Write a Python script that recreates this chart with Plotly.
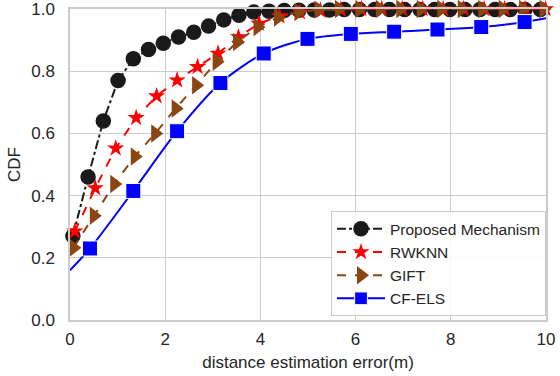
import plotly.graph_objects as go

# Proposed Mechanism (black circles)
prop_x = [0.06, 0.38, 0.70, 1.01, 1.33, 1.65, 1.96, 2.28, 2.60, 2.91, 3.23, 3.55, 3.86, 4.18, 4.50,
          4.81, 5.13, 5.45, 5.76, 6.08, 6.40, 6.71, 7.03, 7.35, 7.66, 7.98, 8.30, 8.61, 8.93, 9.25, 9.56, 9.88]
prop_y = [0.27, 0.46, 0.64, 0.77, 0.84, 0.87, 0.89, 0.91, 0.925, 0.945, 0.965, 0.98, 0.99, 0.993, 0.995,
          0.996, 0.997, 0.997, 0.998, 0.998, 0.998, 0.998, 0.998, 0.998, 0.998, 0.998, 0.998, 0.998, 0.998, 0.998, 0.998, 0.998]

# RWKNN (red stars)
rw_x = [0.10, 0.53, 0.96, 1.39, 1.82, 2.25, 2.68, 3.11, 3.54, 3.97, 4.40, 4.83, 5.26, 5.69, 6.12, 6.55,
        6.98, 7.41, 7.84, 8.27, 8.70, 9.13, 9.56, 9.99]
rw_y = [0.285, 0.424, 0.552, 0.65, 0.72, 0.771, 0.814, 0.857, 0.91, 0.953, 0.977, 0.99, 0.995, 0.998, 1.0, 1.0,
        1.0, 1.0, 1.0, 1.0, 1.0, 1.0, 1.0, 1.0]

# GIFT (brown triangles)
gift_x = [0.07, 0.50, 0.93, 1.36, 1.79, 2.22, 2.65, 3.08, 3.51, 3.94, 4.37, 4.80, 5.22, 5.65, 6.08, 6.51,
          6.94, 7.37, 7.80, 8.23, 8.66, 9.09, 9.52, 9.95]
gift_y = [0.232, 0.335, 0.437, 0.526, 0.60, 0.68, 0.755, 0.83, 0.894, 0.942, 0.973, 0.99, 0.998, 1.0, 1.0, 1.0,
          1.0, 1.0, 1.0, 1.0, 1.0, 1.0, 1.0, 1.0]

# CF-ELS (blue squares), first and last values are line end points without marker
cf_x = [0.0, 0.42, 1.33, 2.25, 3.16, 4.07, 4.99, 5.90, 6.81, 7.72, 8.64, 9.55, 10.0]
cf_y = [0.16, 0.23, 0.415, 0.607, 0.762, 0.857, 0.904, 0.92, 0.927, 0.934, 0.942, 0.958, 0.97]

x_ticks = [0, 2, 4, 6, 8, 10]
y_ticks = [0.0, 0.2, 0.4, 0.6, 0.8, 1.0]

FONT = "Liberation Sans, Arial, sans-serif"
GRID = "#cccccc"
TXT = "#262626"

fig = go.Figure()
fig.add_trace(go.Scatter(
    x=prop_x, y=prop_y, name="Proposed Mechanism", mode="lines+markers",
    line=dict(color="#1a1a1a", width=2, dash="dashdot"),
    marker=dict(symbol="circle", color="#1a1a1a", size=15.5),
    cliponaxis=False, legendrank=1))
fig.add_trace(go.Scatter(
    x=rw_x, y=rw_y, name="RWKNN", mode="lines+markers",
    line=dict(color="#ff0000", width=2, dash="dash"),
    marker=dict(symbol="star", color="#ff0000", size=13),
    cliponaxis=False, legendrank=2))
fig.add_trace(go.Scatter(
    x=gift_x, y=gift_y, name="GIFT", mode="lines+markers",
    line=dict(color="#8b4513", width=2, dash="dash"),
    marker=dict(symbol="triangle-right", color="#8b4513", size=16),
    cliponaxis=False, legendrank=3))
fig.add_trace(go.Scatter(
    x=cf_x, y=cf_y, name="CF-ELS", mode="lines+markers",
    line=dict(color="#0000ff", width=2, shape="spline", smoothing=0.8),
    marker=dict(symbol="square", color="#0000ff", opacity=1,
                size=[0] + [15] * (len(cf_x) - 2) + [0]),
    cliponaxis=False, legendrank=4))

axis_common = dict(
    showgrid=True, gridcolor=GRID, gridwidth=1,
    showline=True, linecolor=GRID, linewidth=1.5, mirror=True,
    zeroline=False, ticks="", automargin=False, ticklabeloverflow="allow",
    tickfont=dict(family=FONT, size=17, color=TXT),
)
fig.update_xaxes(range=[0, 10], tickvals=x_ticks, ticktext=[str(v) for v in x_ticks],
                 ticklabelstandoff=3,
                 title=dict(text="distance estimation error(m)", font=dict(family=FONT, size=17, color=TXT), standoff=8),
                 **axis_common)
fig.update_yaxes(range=[0, 1], tickvals=y_ticks, ticktext=[f"{v:.1f}" for v in y_ticks],
                 ticklabelstandoff=10,
                 title=dict(text="CDF", font=dict(family=FONT, size=17, color=TXT), standoff=6),
                 **axis_common)

fig.update_layout(
    width=560, height=376,
    margin=dict(l=70, r=14, t=9, b=56),
    paper_bgcolor="white", plot_bgcolor="white",
    font=dict(family=FONT, color=TXT),
    legend=dict(x=1.0, y=0.012, xanchor="right", yanchor="bottom",
                traceorder="normal",
                bgcolor="rgba(255,255,255,0.85)", bordercolor=GRID, borderwidth=1,
                font=dict(family=FONT, size=15.5, color=TXT), tracegroupgap=0,
                itemwidth=48),
)
fig.write_html("out.html", config={"displayModeBar": False},
               post_script="document.body.style.margin='0';")
